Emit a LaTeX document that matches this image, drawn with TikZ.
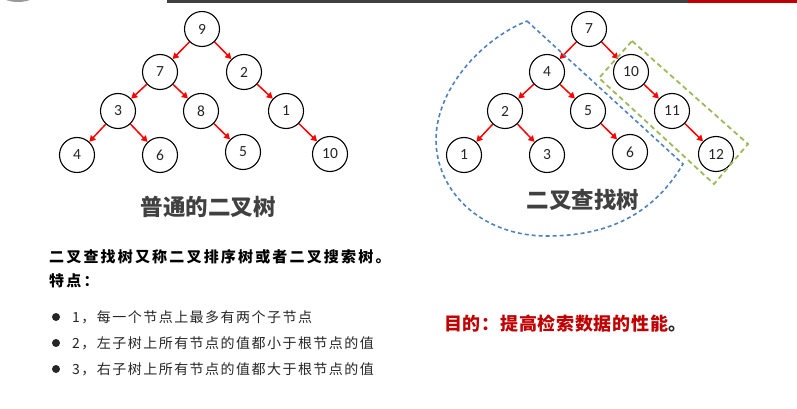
\documentclass[tikz,border=0pt]{standalone}
\usepackage{fontspec}
\setmainfont{Noto Sans CJK SC}
\newfontfamily\numfont{Carlito}
\usetikzlibrary{arrows.meta}
\definecolor{dgray}{HTML}{404040}
\definecolor{tgray}{HTML}{262626}
\definecolor{dred}{HTML}{C00000}
\definecolor{bluel}{HTML}{4F81BD}
\definecolor{greenl}{HTML}{9BBB59}
\begin{document}
\begin{tikzpicture}[x=1pt,y=-1pt,
  tn/.style={circle,draw=black,line width=1.1pt,fill=white,minimum size=35pt,inner sep=0pt,
    font=\numfont\fontsize{15.5}{15.5}\selectfont,text=tgray},
  arr/.style={draw=red,line width=1.5pt,-{Triangle[length=6pt,width=6.5pt]}},
  title/.style={font=\bfseries\fontsize{22.5}{22.5}\selectfont,text=dgray,inner sep=0pt},
  bodyb/.style={anchor=west,inner sep=0pt,text=black,font=\bfseries\fontsize{15}{15}\selectfont\addfontfeatures{LetterSpace=14.5}},
  bodyt/.style={anchor=west,inner sep=0pt,text=tgray,font=\fontsize{14}{14}\selectfont\addfontfeatures{LetterSpace=10.5}},
  blt/.style={circle,fill=tgray,inner sep=0pt,minimum size=8pt},
  bdash/.style={draw=bluel,line width=1.6pt,dash pattern=on 4pt off 3pt},
  gdash/.style={draw=greenl,line width=1.8pt,dash pattern=on 5pt off 3.5pt}
]
\useasboundingbox (0,0) rectangle (797,409);
% top bar
\fill[dgray] (167,0) rectangle (688,2.6);
\fill[dred] (688,0) rectangle (797,2.6);
\begin{scope}
\clip (0,0) rectangle (797,409);
\fill[gray!80] (18,-35) circle (37);
\end{scope}

% left tree
\node[tn] (a9) at (202,29) {9};
\node[tn] (a7) at (160,72) {7};
\node[tn] (a2) at (244,72) {2};
\node[tn] (a3) at (118,111) {3};
\node[tn] (a8) at (201,111) {8};
\node[tn] (a1) at (286,111) {1};
\node[tn] (a4) at (77,155) {4};
\node[tn] (a6) at (160,155) {6};
\node[tn] (a5) at (243,152) {5};
\node[tn] (a10) at (330,154) {10};
\draw[arr] (a9) -- (a7);
\draw[arr] (a9) -- (a2);
\draw[arr] (a7) -- (a3);
\draw[arr] (a7) -- (a8);
\draw[arr] (a2) -- (a1);
\draw[arr] (a3) -- (a4);
\draw[arr] (a3) -- (a6);
\draw[arr] (a8) -- (a5);
\draw[arr] (a1) -- (a10);

% right tree
\node[tn] (b7) at (589,29) {7};
\node[tn] (b4) at (547,72) {4};
\node[tn] (b10) at (631,72) {10};
\node[tn] (b2) at (505,111) {2};
\node[tn] (b5) at (588,111) {5};
\node[tn] (b11) at (672,111) {11};
\node[tn] (b1) at (464,155) {1};
\node[tn] (b3) at (547,155) {3};
\node[tn] (b6) at (630,152) {6};
\node[tn] (b12) at (716,154) {12};
\draw[arr] (b7) -- (b4);
\draw[arr] (b7) -- (b10);
\draw[arr] (b4) -- (b2);
\draw[arr] (b4) -- (b5);
\draw[arr] (b10) -- (b11);
\draw[arr] (b2) -- (b1);
\draw[arr] (b2) -- (b3);
\draw[arr] (b5) -- (b6);
\draw[arr] (b11) -- (b12);

% dashed outlines
\draw[bdash] (527,21) -- (683,164)
  .. controls (650,220) and (600,236) .. (547,236)
  .. controls (480,236) and (436,190) .. (436,140)
  .. controls (436,90) and (480,40) .. cycle;
\draw[gdash] (632,41) -- (748,144) -- (714,184) -- (599,78) -- cycle;

% titles
\node[title] (t1) at (208,207) {普通的二叉树};
\node[title] (t2) at (583,200) {二叉查找树};

% description
\node[bodyb] (d1) at (49,257) {二叉查找树又称二叉排序树或者二叉搜索树。};
\node[bodyb] (d2) at (49,281) {特点：};
\node[blt] (p1) at (56,317) {};
\node[blt] (p2) at (56,343) {};
\node[blt] (p3) at (56,369) {};
\node[bodyt] (l1) at (72,317) {1，每一个节点上最多有两个子节点};
\node[bodyt] (l2) at (72,343) {2，左子树上所有节点的值都小于根节点的值};
\node[bodyt] (l3) at (72,369) {3，右子树上所有节点的值都大于根节点的值};

% goal
\node[anchor=west,inner sep=0pt,font=\bfseries\fontsize{18}{18}\selectfont\addfontfeatures{LetterSpace=4}] (g1) at (444,324) {\textcolor{dred}{目的：提高检索数据的性能}\textcolor{tgray}{。}};
\end{tikzpicture}
\end{document}
